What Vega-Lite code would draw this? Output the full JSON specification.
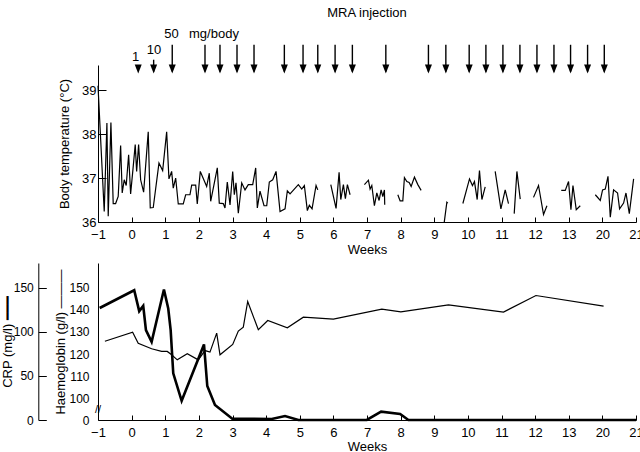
{
  "$schema": "https://vega.github.io/schema/vega-lite/v6.json",
  "padding": {"left": 1, "top": 7, "right": 0, "bottom": 0},
  "background": "white",
  "spacing": 41,
  "bounds": "flush",
  "config": {
    "font": "Liberation Sans",
    "view": {"stroke": null},
    "axis": {"labelFontSize": 13, "titleFontSize": 13, "titleFontWeight": "normal", "labelColor": "#000", "titleColor": "#000", "domainColor": "#000", "tickColor": "#000", "grid": false, "labelFont": "Liberation Sans", "titleFont": "Liberation Sans", "labelFlush": false, "labelOverlap": false}
  },
  "datasets": {
    "temp": [
      {"t": -1.0, "temp": 39.1, "seg": 1}, {"t": -0.815, "temp": 36.24, "seg": 1}, {"t": -0.735, "temp": 38.25, "seg": 1}, {"t": -0.696, "temp": 36.13, "seg": 1}, {"t": -0.616, "temp": 38.26, "seg": 1}, {"t": -0.548, "temp": 36.42, "seg": 1}, {"t": -0.476, "temp": 36.42, "seg": 1}, {"t": -0.399, "temp": 36.58, "seg": 1}, {"t": -0.327, "temp": 37.74, "seg": 1}, {"t": -0.28, "temp": 36.66, "seg": 1}, {"t": -0.22, "temp": 36.96, "seg": 1}, {"t": -0.161, "temp": 36.83, "seg": 1}, {"t": -0.089, "temp": 37.53, "seg": 1}, {"t": -0.03, "temp": 36.64, "seg": 1}, {"t": 0.039, "temp": 37.19, "seg": 1}, {"t": 0.107, "temp": 37.76, "seg": 1}, {"t": 0.149, "temp": 37.15, "seg": 1}, {"t": 0.208, "temp": 37.76, "seg": 1}, {"t": 0.268, "temp": 36.96, "seg": 1}, {"t": 0.357, "temp": 36.68, "seg": 1}, {"t": 0.494, "temp": 38.05, "seg": 1}, {"t": 0.554, "temp": 36.32, "seg": 1}, {"t": 0.643, "temp": 36.33, "seg": 1}, {"t": 0.813, "temp": 37.34, "seg": 1}, {"t": 0.923, "temp": 37.17, "seg": 1}, {"t": 1.042, "temp": 38.05, "seg": 1}, {"t": 1.11, "temp": 36.98, "seg": 1}, {"t": 1.19, "temp": 37.15, "seg": 1}, {"t": 1.238, "temp": 36.77, "seg": 1}, {"t": 1.31, "temp": 37.0, "seg": 1}, {"t": 1.387, "temp": 36.41, "seg": 1}, {"t": 1.536, "temp": 36.41, "seg": 1}, {"t": 1.607, "temp": 36.62, "seg": 1}, {"t": 1.735, "temp": 36.62, "seg": 1}, {"t": 1.786, "temp": 36.84, "seg": 1}, {"t": 1.905, "temp": 36.84, "seg": 1}, {"t": 1.952, "temp": 36.41, "seg": 1}, {"t": 2.042, "temp": 37.15, "seg": 1}, {"t": 2.232, "temp": 36.81, "seg": 1}, {"t": 2.31, "temp": 37.11, "seg": 1}, {"t": 2.351, "temp": 36.47, "seg": 1}, {"t": 2.548, "temp": 37.23, "seg": 1}, {"t": 2.607, "temp": 36.43, "seg": 1}, {"t": 2.726, "temp": 36.42, "seg": 1}, {"t": 2.777, "temp": 36.32, "seg": 1}, {"t": 2.845, "temp": 36.91, "seg": 1}, {"t": 2.926, "temp": 36.39, "seg": 1}, {"t": 3.006, "temp": 37.15, "seg": 1}, {"t": 3.054, "temp": 36.62, "seg": 1}, {"t": 3.104, "temp": 36.89, "seg": 1}, {"t": 3.173, "temp": 36.2, "seg": 1}, {"t": 3.274, "temp": 36.89, "seg": 1}, {"t": 3.372, "temp": 36.73, "seg": 1}, {"t": 3.47, "temp": 36.85, "seg": 1}, {"t": 3.601, "temp": 36.85, "seg": 1}, {"t": 3.69, "temp": 37.23, "seg": 1}, {"t": 3.738, "temp": 36.32, "seg": 1}, {"t": 3.818, "temp": 36.7, "seg": 1}, {"t": 3.938, "temp": 36.37, "seg": 1}, {"t": 4.018, "temp": 36.37, "seg": 1}, {"t": 4.095, "temp": 36.91, "seg": 1}, {"t": 4.196, "temp": 36.96, "seg": 1}, {"t": 4.295, "temp": 37.15, "seg": 1}, {"t": 4.414, "temp": 36.24, "seg": 1}, {"t": 4.563, "temp": 36.3, "seg": 1}, {"t": 4.631, "temp": 36.71, "seg": 1}, {"t": 4.711, "temp": 36.64, "seg": 1}, {"t": 4.958, "temp": 36.85, "seg": 1}, {"t": 5.06, "temp": 36.75, "seg": 1}, {"t": 5.137, "temp": 36.83, "seg": 1}, {"t": 5.226, "temp": 36.26, "seg": 1}, {"t": 5.286, "temp": 36.38, "seg": 1}, {"t": 5.366, "temp": 36.3, "seg": 1}, {"t": 5.485, "temp": 36.83, "seg": 1}, {"t": 5.536, "temp": 36.73, "seg": 1},
      {"t": 5.923, "temp": 36.85, "seg": 2}, {"t": 6.08, "temp": 36.31, "seg": 2}, {"t": 6.17, "temp": 37.13, "seg": 2}, {"t": 6.22, "temp": 36.51, "seg": 2}, {"t": 6.298, "temp": 36.85, "seg": 2}, {"t": 6.357, "temp": 36.53, "seg": 2}, {"t": 6.417, "temp": 36.85, "seg": 2}, {"t": 6.497, "temp": 36.62, "seg": 2},
      {"t": 6.923, "temp": 36.85, "seg": 3}, {"t": 7.042, "temp": 36.95, "seg": 3}, {"t": 7.092, "temp": 36.75, "seg": 3}, {"t": 7.143, "temp": 36.83, "seg": 3}, {"t": 7.22, "temp": 36.37, "seg": 3}, {"t": 7.292, "temp": 36.66, "seg": 3}, {"t": 7.36, "temp": 36.49, "seg": 3}, {"t": 7.42, "temp": 36.73, "seg": 3}, {"t": 7.47, "temp": 36.58, "seg": 3}, {"t": 7.518, "temp": 36.73, "seg": 3}, {"t": 7.527, "temp": 36.39, "seg": 3},
      {"t": 7.917, "temp": 36.62, "seg": 4}, {"t": 7.985, "temp": 36.48, "seg": 4}, {"t": 8.065, "temp": 36.48, "seg": 4}, {"t": 8.113, "temp": 37.01, "seg": 4}, {"t": 8.185, "temp": 36.92, "seg": 4}, {"t": 8.253, "temp": 36.9, "seg": 4}, {"t": 8.313, "temp": 36.81, "seg": 4}, {"t": 8.411, "temp": 37.02, "seg": 4}, {"t": 8.512, "temp": 36.85, "seg": 4}, {"t": 8.61, "temp": 36.72, "seg": 4},
      {"t": 9.295, "temp": 35.98, "seg": 5}, {"t": 9.375, "temp": 36.45, "seg": 5}, {"t": 9.405, "temp": 36.43, "seg": 5},
      {"t": 9.851, "temp": 36.42, "seg": 6}, {"t": 10.048, "temp": 36.98, "seg": 6}, {"t": 10.137, "temp": 36.83, "seg": 6}, {"t": 10.196, "temp": 36.92, "seg": 6}, {"t": 10.277, "temp": 36.51, "seg": 6}, {"t": 10.345, "temp": 37.17, "seg": 6}, {"t": 10.417, "temp": 36.51, "seg": 6}, {"t": 10.515, "temp": 36.8, "seg": 6},
      {"t": 10.812, "temp": 37.15, "seg": 7}, {"t": 10.982, "temp": 36.3, "seg": 7}, {"t": 11.11, "temp": 36.73, "seg": 7}, {"t": 11.208, "temp": 36.42, "seg": 7},
      {"t": 11.378, "temp": 36.19, "seg": 8}, {"t": 11.458, "temp": 37.15, "seg": 8}, {"t": 11.557, "temp": 36.52, "seg": 8},
      {"t": 11.952, "temp": 36.56, "seg": 9}, {"t": 12.101, "temp": 36.83, "seg": 9}, {"t": 12.25, "temp": 36.17, "seg": 9}, {"t": 12.351, "temp": 36.37, "seg": 9},
      {"t": 12.777, "temp": 36.72, "seg": 10}, {"t": 12.896, "temp": 36.72, "seg": 10}, {"t": 12.994, "temp": 36.92, "seg": 10}, {"t": 13.065, "temp": 36.28, "seg": 10}, {"t": 13.125, "temp": 36.83, "seg": 10}, {"t": 13.223, "temp": 36.28, "seg": 10}, {"t": 13.342, "temp": 36.37, "seg": 10},
      {"t": 13.789, "temp": 36.62, "seg": 11}, {"t": 13.938, "temp": 36.49, "seg": 11}, {"t": 14.006, "temp": 36.73, "seg": 11}, {"t": 14.086, "temp": 36.75, "seg": 11}, {"t": 14.167, "temp": 37.04, "seg": 11}, {"t": 14.235, "temp": 36.11, "seg": 11}, {"t": 14.333, "temp": 36.73, "seg": 11}, {"t": 14.452, "temp": 36.66, "seg": 11}, {"t": 14.512, "temp": 36.3, "seg": 11}, {"t": 14.631, "temp": 36.43, "seg": 11}, {"t": 14.702, "temp": 36.66, "seg": 11}, {"t": 14.801, "temp": 36.19, "seg": 11}, {"t": 14.929, "temp": 36.98, "seg": 11}
    ],
    "arrows": [
      {"t": 0.196, "dose": 1}, {"t": 0.655, "dose": 10}, {"t": 1.208, "dose": 50}, {"t": 2.182, "dose": 50}, {"t": 2.628, "dose": 50}, {"t": 3.134, "dose": 50}, {"t": 3.64, "dose": 50}, {"t": 4.542, "dose": 50}, {"t": 5.098, "dose": 50}, {"t": 5.536, "dose": 50}, {"t": 6.051, "dose": 50}, {"t": 6.565, "dose": 50}, {"t": 7.56, "dose": 50}, {"t": 8.827, "dose": 50}, {"t": 9.345, "dose": 50}, {"t": 10.039, "dose": 50}, {"t": 10.536, "dose": 50}, {"t": 11.042, "dose": 50}, {"t": 11.548, "dose": 50}, {"t": 12.054, "dose": 50}, {"t": 12.56, "dose": 50}, {"t": 13.054, "dose": 50}, {"t": 13.56, "dose": 50}, {"t": 14.057, "dose": 50}
    ],
    "doselabels": [
      {"t": 0.12, "dose": 1, "text": "1"}, {"t": 0.664, "dose": 10, "text": "10"}, {"t": 1.185, "dose": 50, "text": "50"}, {"t": 2.449, "dose": 50, "text": "mg/body"}
    ],
    "crp": [
      {"t": -0.95, "crp": 127}, {"t": 0.077, "crp": 147.1}, {"t": 0.226, "crp": 123.4}, {"t": 0.345, "crp": 129.4}, {"t": 0.426, "crp": 101.9}, {"t": 0.595, "crp": 88.6}, {"t": 0.961, "crp": 147.9}, {"t": 1.089, "crp": 126.4}, {"t": 1.161, "crp": 101.9}, {"t": 1.238, "crp": 52.9}, {"t": 1.488, "crp": 21.8}, {"t": 2.152, "crp": 85.7}, {"t": 2.25, "crp": 38.5}, {"t": 2.479, "crp": 17.0}, {"t": 2.994, "crp": 1.5}, {"t": 4.167, "crp": 1.1}, {"t": 4.562, "crp": 4.5}, {"t": 4.958, "crp": 0}, {"t": 6.994, "crp": 0}, {"t": 7.42, "crp": 9.4}, {"t": 7.985, "crp": 6.8}, {"t": 8.232, "crp": 0}, {"t": 15, "crp": 0}
    ],
    "hb": [
      {"t": -0.795, "hb": 125.8}, {"t": 0.03, "hb": 129.9}, {"t": 0.196, "hb": 124.9}, {"t": 0.595, "hb": 122.4}, {"t": 0.893, "hb": 121.2}, {"t": 1.06, "hb": 121.2}, {"t": 1.19, "hb": 119.7}, {"t": 1.357, "hb": 117.4}, {"t": 1.655, "hb": 120.2}, {"t": 1.982, "hb": 117.4}, {"t": 2.182, "hb": 121.6}, {"t": 2.33, "hb": 120.9}, {"t": 2.53, "hb": 129.5}, {"t": 2.628, "hb": 119.7}, {"t": 3.006, "hb": 124.4}, {"t": 3.173, "hb": 130.4}, {"t": 3.321, "hb": 132.2}, {"t": 3.452, "hb": 143.8}, {"t": 3.768, "hb": 131.0}, {"t": 4.048, "hb": 135.2}, {"t": 4.631, "hb": 131.9}, {"t": 5.107, "hb": 136.7}, {"t": 6.0, "hb": 135.8}, {"t": 7.44, "hb": 140.3}, {"t": 8.006, "hb": 139.1}, {"t": 9.423, "hb": 142.3}, {"t": 11.06, "hb": 139.0}, {"t": 12.024, "hb": 146.5}, {"t": 14.036, "hb": 141.7}
    ]
  },
  "vconcat": [
    {
      "width": 538,
      "height": 157,
      "title": {"text": "MRA injection", "fontSize": 13, "fontWeight": "normal", "font": "Liberation Sans", "color": "#000", "anchor": "middle", "frame": "group", "offset": 8},
      "layer": [
        {
          "data": {"name": "temp"},
          "mark": {"type": "line", "color": "#000", "strokeWidth": 1.2},
          "encoding": {
            "x": {"field": "t", "type": "quantitative", "scale": {"domain": [-1, 15], "nice": false},
                  "axis": {"values": [-1, 0, 1, 2, 3, 4, 5, 6, 7, 8, 9, 10, 11, 12, 13, 14, 15], "tickCount": 100, "format": "d", "labelExpr": "datum.value == 14 ? '20' : datum.value == 15 ? '21' : datum.label", "labelOverlap": false, "labelFlush": false, "tickSize": -5, "labelPadding": 11, "title": "Weeks", "titlePadding": 2}},
            "y": {"field": "temp", "type": "quantitative", "scale": {"domain": [36, 39.57], "nice": false, "zero": false},
                  "axis": {"values": [36, 37, 38, 39], "tickCount": 100, "format": "d", "labelOverlap": false, "tickSize": -8, "labelPadding": 10, "title": "Body temperature (°C)", "titlePadding": 10}},
            "detail": {"field": "seg"}
          }
        },
        {
          "data": {"name": "arrows"},
          "transform": [{"filter": "datum.dose == 50"}],
          "mark": {"type": "rule", "color": "#000", "strokeWidth": 1.4},
          "encoding": {"x": {"field": "t", "type": "quantitative"}, "y": {"datum": 40.03}, "y2": {"datum": 39.42}}
        },
        {
          "data": {"name": "arrows"},
          "transform": [{"filter": "datum.dose == 10"}],
          "mark": {"type": "rule", "color": "#000", "strokeWidth": 1.4},
          "encoding": {"x": {"field": "t", "type": "quantitative"}, "y": {"datum": 39.69}, "y2": {"datum": 39.42}}
        },
        {
          "data": {"name": "arrows"},
          "mark": {"type": "point", "shape": "M-0.7,-1.8L0.7,-1.8L0,0Z", "size": 100, "filled": true, "color": "#000", "opacity": 1},
          "encoding": {"x": {"field": "t", "type": "quantitative"}, "y": {"datum": 39.375}}
        },
        {
          "data": {"name": "doselabels"},
          "transform": [{"filter": "datum.dose == 50"}],
          "mark": {"type": "text", "fontSize": 13, "baseline": "alphabetic", "align": "center", "color": "#000"},
          "encoding": {"x": {"field": "t", "type": "quantitative"}, "y": {"datum": 40.18}, "text": {"field": "text"}}
        },
        {
          "data": {"name": "doselabels"},
          "transform": [{"filter": "datum.dose == 10"}],
          "mark": {"type": "text", "fontSize": 13, "baseline": "alphabetic", "align": "center", "color": "#000"},
          "encoding": {"x": {"field": "t", "type": "quantitative"}, "y": {"datum": 39.81}, "text": {"field": "text"}}
        },
        {
          "data": {"name": "doselabels"},
          "transform": [{"filter": "datum.dose == 1"}],
          "mark": {"type": "text", "fontSize": 13, "baseline": "alphabetic", "align": "center", "color": "#000"},
          "encoding": {"x": {"field": "t", "type": "quantitative"}, "y": {"datum": 39.66}, "text": {"field": "text"}}
        }
      ]
    },
    {
      "width": 538,
      "height": 157,
      "layer": [
        {
          "layer": [
            {
              "data": {"name": "hb"},
              "mark": {"type": "line", "color": "#000", "strokeWidth": 1.2},
              "encoding": {
                "x": {"field": "t", "type": "quantitative", "scale": {"domain": [-1, 15], "nice": false},
                      "axis": {"values": [-1, 0, 1, 2, 3, 4, 5, 6, 7, 8, 9, 10, 11, 12, 13, 14, 15], "tickCount": 100, "format": "d", "labelExpr": "datum.value == 14 ? '20' : datum.value == 15 ? '21' : datum.label", "labelOverlap": false, "labelFlush": false, "tickSize": -5, "labelPadding": 11, "title": "Weeks", "titlePadding": 1}},
                "y": {"field": "hb", "type": "quantitative", "scale": {"domain": [90.2, 161.2], "nice": false, "zero": false},
                      "axis": {"orient": "left", "values": [90.2, 100, 110, 120, 130, 140, 150], "tickCount": 100, "format": "d", "labelExpr": "datum.value < 95 ? '0' : datum.label", "labelOverlap": false, "labelFontSize": 12, "ticks": false, "labelPadding": 9, "title": "Haemoglobin (g/l)    ———", "titlePadding": 1}}
              }
            },
            {
              "data": {"values": [{"mark": "break"}]},
              "mark": {"type": "text", "text": "//", "fontSize": 11, "align": "center", "baseline": "middle", "color": "#000"},
              "encoding": {"x": {"datum": -1}, "y": {"datum": 94.6}}
            }
          ]
        },
        {
          "data": {"name": "crp"},
          "mark": {"type": "line", "color": "#000", "strokeWidth": 2.6},
          "encoding": {
            "x": {"field": "t", "type": "quantitative"},
            "y": {"field": "crp", "type": "quantitative", "scale": {"domain": [0, 178], "nice": false},
                  "axis": {"orient": "left", "offset": 59.7, "values": [0, 50, 100, 150], "tickCount": 100, "format": "d", "labelOverlap": false, "labelFontSize": 12, "tickSize": -8, "labelPadding": 13, "title": "CRP (mg/l)    ━━━", "titlePadding": -1}}
          }
        }
      ],
      "resolve": {"scale": {"y": "independent"}, "axis": {"y": "independent"}}
    }
  ]
}
